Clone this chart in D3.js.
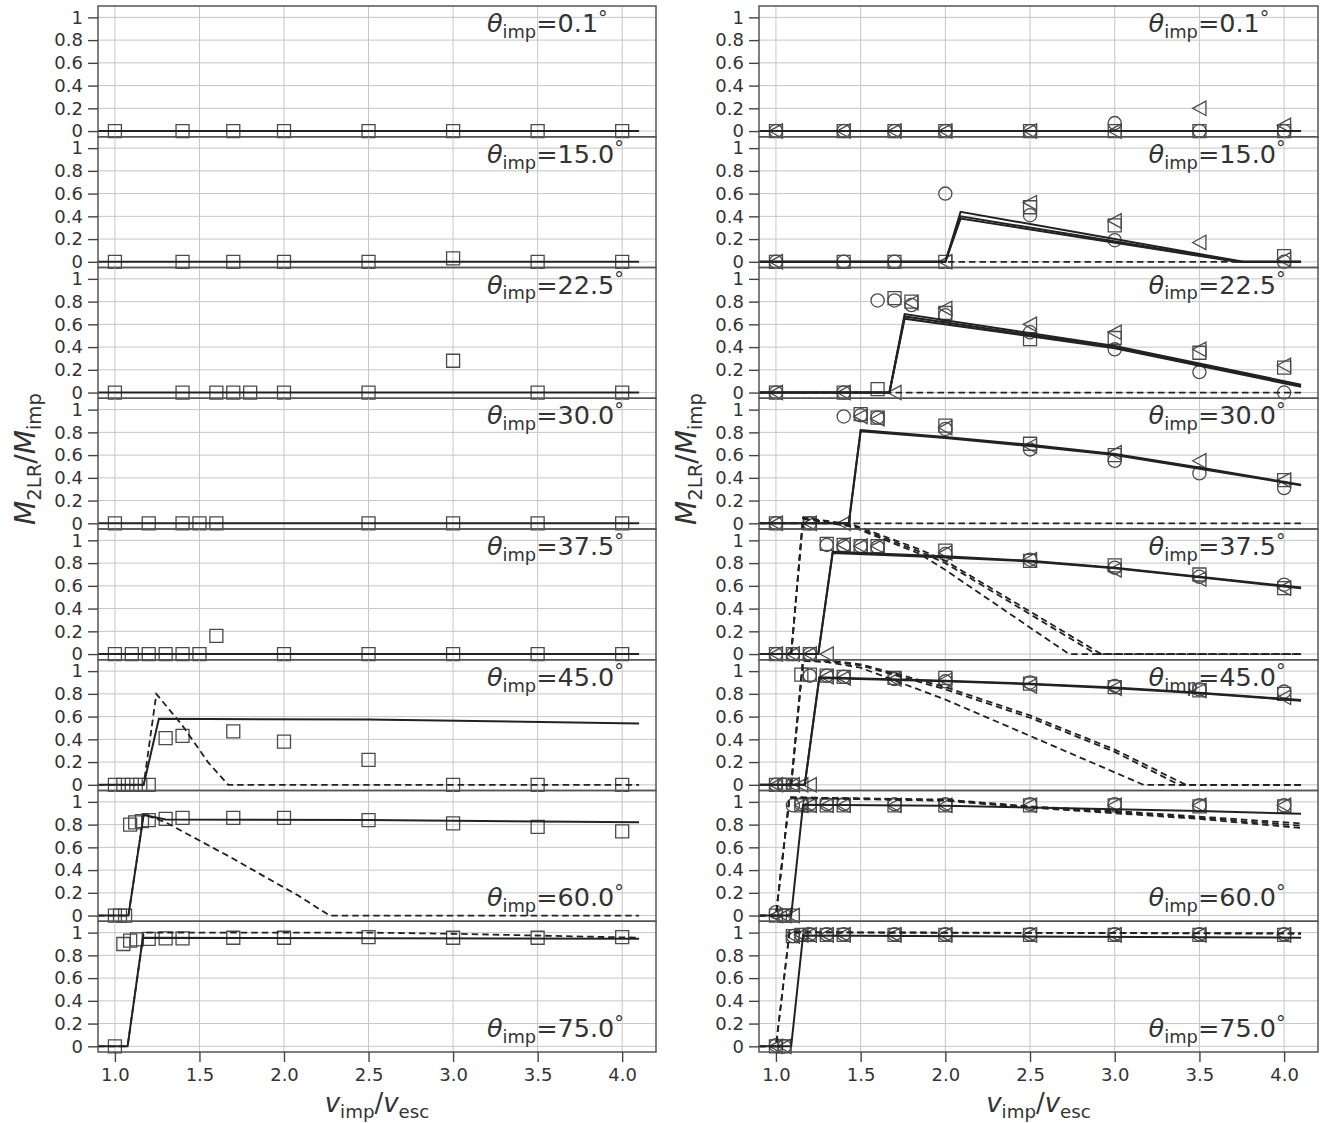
<!DOCTYPE html>
<html><head><meta charset="utf-8">
<script src="https://cdn.jsdelivr.net/npm/d3@7"></script>
<style>body{margin:0;background:#fff}svg{display:block}</style>
</head><body><svg id="c" width="1337" height="1123"></svg>
<script>
// ---------- data ----------
const angles = ["0.1","15.0","22.5","30.0","37.5","45.0","60.0","75.0"];
const xTicks = [1.0,1.5,2.0,2.5,3.0,3.5,4.0];
const yTicks = [0,0.2,0.4,0.6,0.8,1];
const yTickLabels = ["0","0.2","0.4","0.6","0.8","1"];

// left column: simulation points (squares)
const leftSquares = [
 [[1.0,0],[1.4,0],[1.7,0],[2.0,0],[2.5,0],[3.0,0],[3.5,0],[4.0,0]],
 [[1.0,0],[1.4,0],[1.7,0],[2.0,0],[2.5,0],[3.0,0.03],[3.5,0],[4.0,0]],
 [[1.0,0],[1.4,0],[1.6,0],[1.7,0],[1.8,0],[2.0,0],[2.5,0],[3.0,0.28],[3.5,0],[4.0,0]],
 [[1.0,0],[1.2,0],[1.4,0],[1.5,0],[1.6,0],[2.5,0],[3.0,0],[3.5,0],[4.0,0]],
 [[1.0,0],[1.1,0],[1.2,0],[1.3,0],[1.4,0],[1.5,0],[1.6,0.16],[2.0,0],[2.5,0],[3.0,0],[3.5,0],[4.0,0]],
 [[1.0,0],[1.05,0],[1.1,0],[1.15,0],[1.2,0],[1.3,0.41],[1.4,0.43],[1.7,0.47],[2.0,0.38],[2.5,0.22],[3.0,0],[3.5,0],[4.0,0]],
 [[1.0,0],[1.03,0],[1.06,0],[1.09,0.80],[1.12,0.82],[1.16,0.83],[1.2,0.84],[1.3,0.85],[1.4,0.86],[1.7,0.86],[2.0,0.86],[2.5,0.84],[3.0,0.81],[3.5,0.78],[4.0,0.74]],
 [[1.0,0],[1.05,0.90],[1.09,0.93],[1.13,0.94],[1.2,0.945],[1.3,0.95],[1.4,0.95],[1.7,0.955],[2.0,0.955],[2.5,0.96],[3.0,0.955],[3.5,0.955],[4.0,0.96]]
];
// left column: model curves
const leftSolid = [
 [[0.9,0],[4.1,0]],
 [[0.9,0],[4.1,0]],
 [[0.9,0],[4.1,0]],
 [[0.9,0],[4.1,0]],
 [[0.9,0],[4.1,0]],
 [[0.9,0],[1.17,0],[1.26,0.58],[2.5,0.575],[4.1,0.54]],
 [[0.9,0],[1.08,0],[1.17,0.885],[1.3,0.845],[2.5,0.84],[4.1,0.82]],
 [[0.9,0],[1.075,0],[1.165,0.955],[4.1,0.945]]
];
const leftDashed = [
 null,null,null,null,null,
 [[0.9,0],[1.17,0],[1.245,0.80],[1.4,0.52],[1.55,0.2],[1.67,0],[4.1,0]],
 [[0.9,0],[1.08,0],[1.17,0.89],[1.3,0.82],[1.5,0.66],[1.7,0.50],[1.9,0.33],[2.08,0.18],[2.27,0],[4.1,0]],
 [[0.9,0],[1.075,0],[1.17,1.0],[2.5,1.0],[3.0,0.99],[4.1,0.955]]
];

// right column: simulation points
const rightCircles = [
 [[1.0,0],[1.4,0],[1.7,0],[2.0,0],[2.5,0],[3.0,0.07],[3.5,0],[4.0,0]],
 [[1.0,0],[1.4,0],[1.7,0],[2.0,0.6],[2.5,0.41],[3.0,0.19],[4.0,0]],
 [[1.0,0],[1.4,0],[1.6,0.81],[1.7,0.81],[1.8,0.77],[2.0,0.68],[2.5,0.53],[3.0,0.38],[3.5,0.18],[4.0,0]],
 [[1.0,0],[1.2,0],[1.4,0.94],[1.5,0.95],[1.6,0.93],[2.0,0.83],[2.5,0.65],[3.0,0.55],[3.5,0.44],[4.0,0.31]],
 [[1.0,0],[1.1,0],[1.2,0],[1.3,0.96],[1.4,0.95],[1.5,0.95],[1.6,0.94],[2.0,0.88],[2.5,0.83],[3.0,0.76],[3.5,0.68],[4.0,0.61]],
 [[1.0,0],[1.05,0],[1.1,0],[1.2,0.96],[1.3,0.96],[1.4,0.95],[1.7,0.93],[2.0,0.91],[2.5,0.90],[3.0,0.87],[3.5,0.84],[4.0,0.82]],
 [[1.0,0.03],[1.05,0],[1.1,0.97],[1.15,0.98],[1.2,0.98],[1.3,0.98],[1.4,0.98],[1.7,0.98],[2.0,0.98],[2.5,0.98],[3.0,0.98],[3.5,0.97],[4.0,0.97]],
 [[1.0,0.01],[1.05,0],[1.1,0.97],[1.15,0.98],[1.2,0.985],[1.3,0.985],[1.4,0.985],[1.7,0.985],[2.0,0.985],[2.5,0.985],[3.0,0.985],[3.5,0.985],[4.0,0.985]]
];
const rightSquares = [
 [[1.0,0],[1.4,0],[1.7,0],[2.0,0],[2.5,0],[3.0,0],[3.5,0],[4.0,0]],
 [[1.0,0],[1.4,0],[1.7,0],[2.0,0],[2.5,0.48],[3.0,0.32],[4.0,0.05]],
 [[1.0,0],[1.4,0],[1.6,0.03],[1.7,0.83],[1.8,0.80],[2.0,0.70],[2.5,0.47],[3.0,0.48],[3.5,0.35],[4.0,0.22]],
 [[1.0,0],[1.2,0],[1.5,0.96],[1.6,0.93],[2.0,0.86],[2.5,0.70],[3.0,0.60],[4.0,0.38]],
 [[1.0,0],[1.1,0],[1.2,0],[1.3,0.97],[1.4,0.96],[1.5,0.95],[1.6,0.95],[2.0,0.91],[2.5,0.82],[3.0,0.78],[3.5,0.70],[4.0,0.58]],
 [[1.0,0],[1.05,0],[1.1,0],[1.15,0.97],[1.2,0.97],[1.3,0.96],[1.4,0.95],[1.7,0.94],[2.0,0.94],[2.5,0.89],[3.0,0.86],[3.5,0.83],[4.0,0.80]],
 [[1.0,0],[1.05,0],[1.1,0],[1.15,0.97],[1.2,0.97],[1.3,0.97],[1.4,0.97],[1.7,0.97],[2.0,0.97],[2.5,0.97],[3.0,0.97],[3.5,0.96],[4.0,0.96]],
 [[1.0,0],[1.05,0],[1.1,0.97],[1.15,0.98],[1.2,0.98],[1.3,0.98],[1.4,0.98],[1.7,0.98],[2.0,0.98],[2.5,0.98],[3.0,0.98],[3.5,0.98],[4.0,0.98]]
];
const rightTriangles = [
 [[1.0,0],[1.4,0],[1.7,0],[2.0,0],[2.5,0],[3.0,0],[3.5,0.2],[4.0,0.05]],
 [[1.0,0],[2.0,0],[2.5,0.52],[3.0,0.36],[3.5,0.17],[4.0,0.02]],
 [[1.0,0],[1.4,0],[1.7,0],[1.8,0.79],[2.0,0.74],[2.5,0.60],[3.0,0.53],[3.5,0.38],[4.0,0.24]],
 [[1.0,0],[1.2,0],[1.4,0],[1.5,0.94],[1.6,0.92],[2.0,0.84],[2.5,0.68],[3.0,0.62],[3.5,0.55],[4.0,0.38]],
 [[1.0,0],[1.1,0],[1.2,0],[1.3,0],[1.4,0.96],[1.5,0.95],[1.6,0.95],[2.0,0.89],[2.5,0.83],[3.0,0.74],[3.5,0.66],[4.0,0.58]],
 [[1.0,0],[1.1,0],[1.15,0],[1.2,0],[1.3,0.95],[1.4,0.94],[1.7,0.93],[2.0,0.92],[2.5,0.87],[3.0,0.85],[3.5,0.83],[4.0,0.77]],
 [[1.0,0],[1.05,0],[1.1,0],[1.15,0.97],[1.2,0.97],[1.3,0.97],[1.4,0.97],[1.7,0.97],[2.0,0.97],[2.5,0.97],[3.0,0.97],[3.5,0.97],[4.0,0.97]],
 [[1.0,0],[1.05,0],[1.1,0.97],[1.15,0.98],[1.2,0.98],[1.3,0.98],[1.4,0.98],[1.7,0.98],[2.0,0.98],[2.5,0.98],[3.0,0.98],[3.5,0.98],[4.0,0.98]]
];
// right column: model curves (solid and dashed per panel)
const rightSolid = [
 [[[0.9,0],[4.1,0]]],
 [[[0.9,0],[2.0,0],[2.09,0.44],[3.76,0],[4.1,0]],
  [[0.9,0],[2.0,0],[2.09,0.40],[3.74,0],[4.1,0]],
  [[0.9,0],[2.0,0],[2.09,0.38],[3.72,0],[4.1,0]]],
 [[[0.9,0],[1.67,0],[1.76,0.69],[3.0,0.41],[4.1,0.07]],
  [[0.9,0],[1.67,0],[1.76,0.67],[3.0,0.40],[4.1,0.06]],
  [[0.9,0],[1.67,0],[1.76,0.65],[3.0,0.39],[4.1,0.05]]],
 [[[0.9,0],[1.43,0],[1.5,0.82],[2.0,0.76],[2.5,0.69],[3.0,0.61],[3.5,0.49],[4.1,0.34]],
  [[0.9,0],[1.43,0],[1.5,0.81],[2.0,0.75],[2.5,0.68],[3.0,0.60],[3.5,0.48],[4.1,0.335]]],
 [[[0.9,0],[1.25,0],[1.335,0.90],[2.0,0.86],[2.5,0.82],[3.0,0.76],[3.5,0.68],[4.1,0.585]],
  [[0.9,0],[1.25,0],[1.335,0.89],[2.0,0.85],[2.5,0.815],[3.0,0.755],[3.5,0.675],[4.1,0.578]]],
 [[[0.9,0],[1.17,0],[1.256,0.945],[2.0,0.915],[2.5,0.89],[3.0,0.855],[3.5,0.81],[4.1,0.745]],
  [[0.9,0],[1.17,0],[1.256,0.94],[2.0,0.91],[2.5,0.885],[3.0,0.85],[3.5,0.805],[4.1,0.74]]],
 [[[0.9,0],[1.09,0],[1.16,0.975],[2.0,0.965],[2.5,0.95],[3.0,0.935],[3.5,0.92],[4.1,0.895]]],
 [[[0.9,0],[1.09,0],[1.16,0.975],[4.1,0.955]]]
];
const rightDashed = [
 [],
 [[[0.9,0],[4.1,0]]],
 [[[0.9,0],[4.1,0]]],
 [[[0.9,0],[4.1,0]]],
 [[[0.9,0],[1.09,0],[1.16,1.19],[1.45,1.12],[1.85,0.88],[2.0,0.74],[2.73,0],[4.1,0]],
  [[0.9,0],[1.09,0],[1.16,1.19],[1.45,1.13],[1.85,0.90],[2.0,0.80],[2.89,0],[4.1,0]],
  [[0.9,0],[1.09,0],[1.16,1.2],[1.45,1.14],[1.85,0.92],[2.0,0.82],[2.92,0],[4.1,0]]],
 [[[0.9,0],[1.09,0],[1.16,1.09],[1.3,1.08],[1.5,1.03],[2.0,0.75],[2.5,0.43],[3.17,0],[4.1,0]],
  [[0.9,0],[1.09,0],[1.16,1.1],[1.3,1.09],[1.5,1.05],[2.0,0.84],[2.5,0.59],[3.0,0.29],[3.38,0],[4.1,0]],
  [[0.9,0],[1.09,0],[1.16,1.1],[1.3,1.095],[1.5,1.06],[2.0,0.86],[2.5,0.61],[3.0,0.31],[3.42,0],[4.1,0]]],
 [[[0.9,0],[1.0,0],[1.08,1.04],[2.0,1.02],[2.5,0.96],[3.0,0.92],[3.5,0.87],[4.1,0.81]],
  [[0.9,0],[1.0,0],[1.08,1.04],[2.0,1.015],[2.5,0.955],[3.0,0.91],[3.5,0.86],[4.1,0.79]],
  [[0.9,0],[1.0,0],[1.08,1.035],[2.0,1.01],[2.5,0.95],[3.0,0.90],[3.5,0.85],[4.1,0.77]]],
 [[[0.9,0],[1.0,0],[1.08,1.0],[4.1,0.995]],
  [[0.9,0],[1.0,0],[1.08,1.005],[4.1,0.99]]]
];

// ---------- layout ----------
const svg = d3.select("#c");
const FONT = "DejaVu Sans, sans-serif";
const colX = [[98,656],[759,1318]];
const top0 = 6, ph = 130.75, nP = 8;
const xDom = [0.9,4.2], yDom = [-0.05,1.1];
const GRID = "#c6c6c6", FRAME = "#555", TXT = "#333", LINE = "#222", MK = "#4a4a4a";
const TICKFS = 18;

function mathText(parent, x, y, parts, size, anchor){
  const t = parent.append("text").attr("x",x).attr("y",y)
    .attr("font-family",FONT).attr("font-size",size).attr("fill",TXT)
    .attr("text-anchor",anchor||"start");
  let shift = 0;
  parts.forEach(p=>{
    const s = t.append("tspan").text(p.t);
    let target = 0;
    if(p.sub){ s.attr("font-size",size*0.7); target = size*0.22; }
    if(p.sup){ s.attr("font-size",size*0.75); target = -size*0.3; }
    if(target!==shift){ s.attr("dy", target-shift); shift = target; }
    if(p.i) s.attr("font-style","italic");
  });
  return t;
}

const sqPath = "M-6.5,-6.5H6.5V6.5H-6.5Z";
const triPath = "M-6.8,0L6.5,-7.2L6.5,7.2Z";

for(let c=0;c<2;c++){
  const x = d3.scaleLinear().domain(xDom).range(colX[c]);
  for(let i=0;i<nP;i++){
    const y = d3.scaleLinear().domain(yDom).range([top0+(i+1)*ph, top0+i*ph]);
    const g = svg.append("g");
    // grid
    g.selectAll(".gx").data(xTicks).join("line")
      .attr("x1",d=>x(d)).attr("x2",d=>x(d)).attr("y1",y.range()[0]).attr("y2",y.range()[1])
      .attr("stroke",GRID).attr("stroke-width",1);
    g.selectAll(".gy").data(yTicks).join("line")
      .attr("x1",colX[c][0]).attr("x2",colX[c][1]).attr("y1",d=>y(d)).attr("y2",d=>y(d))
      .attr("stroke",GRID).attr("stroke-width",1);

    // annotation
    const ay = i>=6 ? y(0.08) : y(0.87);
    mathText(g, x(3.2), ay, [{t:"θ",i:true},{t:"imp",sub:true},{t:"="+angles[i]},{t:"°",sup:true}], 25.5);

    const line = d3.line().x(d=>x(d[0])).y(d=>y(d[1]));
    const mk = g.append("g").attr("fill","none").attr("stroke",MK).attr("stroke-width",1.3);
    if(c===0){
      mk.selectAll("path").data(leftSquares[i]).join("path")
        .attr("d",sqPath).attr("transform",d=>`translate(${x(d[0])},${y(d[1])})`);
      if(leftDashed[i]) g.append("path").attr("d",line(leftDashed[i])).attr("fill","none")
        .attr("stroke",LINE).attr("stroke-width",1.8).attr("stroke-dasharray","6.5,4");
      g.append("path").attr("d",line(leftSolid[i])).attr("fill","none")
        .attr("stroke",LINE).attr("stroke-width",2);
    } else {
      mk.selectAll(".ci").data(rightCircles[i]).join("circle")
        .attr("cx",d=>x(d[0])).attr("cy",d=>y(d[1])).attr("r",6.6);
      mk.selectAll(".sq").data(rightSquares[i]).join("path")
        .attr("d",sqPath).attr("transform",d=>`translate(${x(d[0])},${y(d[1])})`);
      mk.selectAll(".tr").data(rightTriangles[i]).join("path")
        .attr("d",triPath).attr("transform",d=>`translate(${x(d[0])},${y(d[1])})`);
      rightDashed[i].forEach(l=>g.append("path").attr("d",line(l)).attr("fill","none")
        .attr("stroke",LINE).attr("stroke-width",1.8).attr("stroke-dasharray","6.5,4"));
      rightSolid[i].forEach(l=>g.append("path").attr("d",line(l)).attr("fill","none")
        .attr("stroke",LINE).attr("stroke-width",2));
    }

    // frame
    g.append("rect").attr("x",colX[c][0]).attr("y",top0+i*ph)
      .attr("width",colX[c][1]-colX[c][0]).attr("height",ph)
      .attr("fill","none").attr("stroke",FRAME).attr("stroke-width",1.5);

    // y axis
    const ya = g.append("g").attr("transform",`translate(${colX[c][0]},0)`)
      .call(d3.axisLeft(y).tickValues(yTicks).tickFormat((d,k)=>yTickLabels[k]).tickSize(10).tickPadding(5));
    ya.select(".domain").remove();
    ya.selectAll("line").attr("stroke","#444").attr("stroke-width",1.4);
    ya.selectAll("text").attr("font-family",FONT).attr("font-size",TICKFS).attr("fill",TXT);

    if(i===nP-1){
      const xa = g.append("g").attr("transform",`translate(0,${top0+nP*ph})`)
        .call(d3.axisBottom(x).tickValues(xTicks).tickFormat(d3.format(".1f")).tickSize(10).tickPadding(6));
      xa.select(".domain").remove();
      xa.selectAll("line").attr("stroke","#444").attr("stroke-width",1.4);
      xa.selectAll("text").attr("font-family",FONT).attr("font-size",TICKFS).attr("fill",TXT);
    }
  }
  // axis labels
  const midX = (colX[c][0]+colX[c][1])/2;
  mathText(svg, midX, 1112, [{t:"v",i:true},{t:"imp",sub:true},{t:"/"},{t:"v",i:true},{t:"esc",sub:true}], 26, "middle");
  const yl = svg.append("g").attr("transform",`translate(${colX[c][0]-63},459) rotate(-90)`);
  mathText(yl, 0, 0, [{t:"M",i:true},{t:"2LR",sub:true},{t:"/"},{t:"M",i:true},{t:"imp",sub:true}], 28, "middle");
}
</script>
</body></html>
